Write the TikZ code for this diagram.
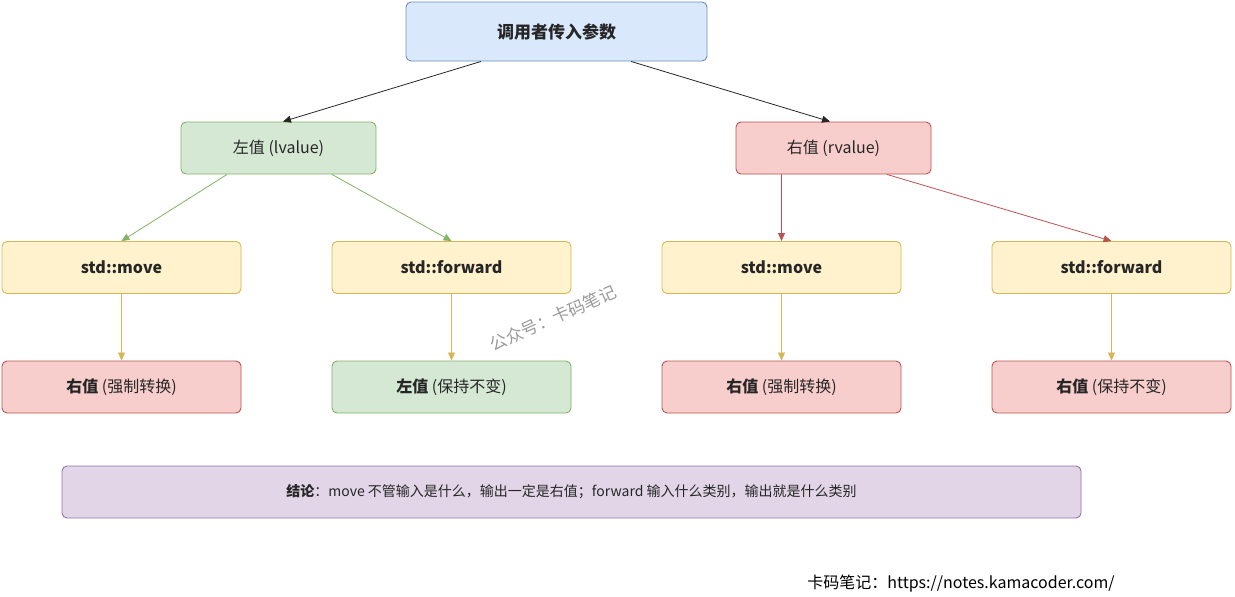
\documentclass[tikz,border=0pt]{standalone}
\usepackage{fontspec}
\setmainfont{Noto Sans CJK SC}
\usetikzlibrary{arrows.meta}
\definecolor{bF}{HTML}{DAE8FC}\definecolor{bD}{HTML}{6C8EBF}
\definecolor{gF}{HTML}{D5E8D4}\definecolor{gD}{HTML}{82B366}
\definecolor{rF}{HTML}{F8CECC}\definecolor{rD}{HTML}{B85450}
\definecolor{yF}{HTML}{FFF2CC}\definecolor{yD}{HTML}{D6B656}
\definecolor{pF}{HTML}{E1D5E7}\definecolor{pD}{HTML}{9673A6}
\begin{document}
\begin{tikzpicture}[x=1pt,y=-1pt,
 box/.style={draw,rounded corners=5pt,line width=0.9pt,minimum height=52pt,minimum width=239pt,inner sep=0pt,font=\fontsize{16}{18}\selectfont,text=black!85},
 blue/.style={box,fill=bF,draw=bD},green/.style={box,fill=gF,draw=gD},
 red/.style={box,fill=rF,draw=rD},yel/.style={box,fill=yF,draw=yD},
 pur/.style={box,fill=pF,draw=pD},
 ar/.style={line width=0.8pt,-{Triangle[length=8pt,width=7pt]}}]
\useasboundingbox (0,0) rectangle (1235,597);
\node[blue,minimum width=301pt,minimum height=59pt,font=\fontsize{17}{19}\selectfont\bfseries] (top) at (556.5,31.5) {调用者传入参数};
\node[green,minimum width=195pt] (lv) at (278.5,148) {左值 (lvalue)};
\node[red,minimum width=195pt] (rv) at (833.5,148) {右值 (rvalue)};
\node[yel,font=\fontsize{16}{18}\selectfont\bfseries] (m1) at (121.5,267.5) {std::move};
\node[yel,font=\fontsize{16}{18}\selectfont\bfseries] (f1) at (451.5,267.5) {std::forward};
\node[yel,font=\fontsize{16}{18}\selectfont\bfseries] (m2) at (781.5,267.5) {std::move};
\node[yel,font=\fontsize{16}{18}\selectfont\bfseries] (f2) at (1111.5,267.5) {std::forward};
\node[red] (r1) at (121.5,387) {\textbf{右值} (强制转换)};
\node[green] (r2) at (451.5,387) {\textbf{左值} (保持不变)};
\node[red] (r3) at (781.5,387) {\textbf{右值} (强制转换)};
\node[red] (r4) at (1111.5,387) {\textbf{右值} (保持不变)};
\node[pur,minimum width=1019pt,font=\fontsize{14}{16}\selectfont] (c) at (571.5,492) {\textbf{结论}：move 不管输入是什么，输出一定是右值；forward 输入什么类别，输出就是什么类别};
\node[font=\fontsize{16}{18}\selectfont,anchor=center] (url) at (961,584) {卡码笔记：https://notes.kamacoder.com/};
\node[text=black!40,rotate=24,font=\fontsize{17}{19}\selectfont] (wm) at (553,318) {公众号：卡码笔记};
\draw[ar,black!85] (top.south -| 481,0) -- (lv.north -| 283,0);
\draw[ar,black!85] (top.south -| 631,0) -- (rv.north -| 830,0);
\draw[ar,gD] (lv.south -| 227,0) -- (m1.north);
\draw[ar,gD] (lv.south -| 332,0) -- (f1.north);
\draw[ar,rD] (rv.south -| m2) -- (m2.north);
\draw[ar,rD] (rv.south -| 887,0) -- (f2.north);
\draw[ar,yD] (m1) -- (r1);
\draw[ar,yD] (f1) -- (r2);
\draw[ar,yD] (m2) -- (r3);
\draw[ar,yD] (f2) -- (r4);
\end{tikzpicture}
\end{document}
